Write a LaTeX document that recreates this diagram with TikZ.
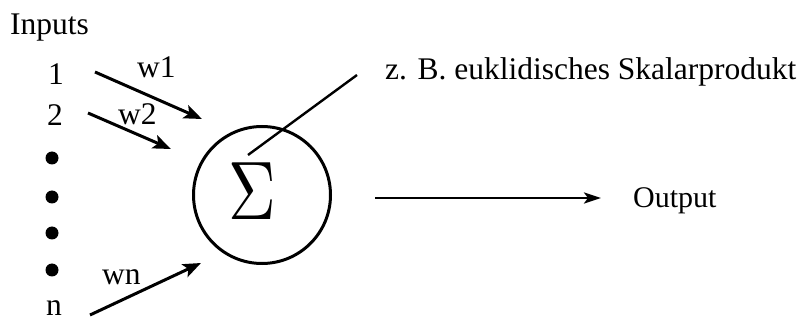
\documentclass[tikz,border=0pt]{standalone}
\usepackage{fontspec}
\setmainfont{Liberation Serif}
\usetikzlibrary{arrows.meta}
\tikzset{
  lbl/.style={anchor=base west, inner sep=0pt, font=\fontsize{31.5}{36}\selectfont},
  inarrow/.style={line width=3pt, -{Stealth[length=18pt, width=14pt, inset=4pt]}},
  outarrow/.style={line width=2.4pt, -{Stealth[length=17pt, width=11pt, inset=4pt]}},
  dotmark/.style={circle, fill=black, inner sep=0pt, minimum size=13pt},
}
\begin{document}
\begin{tikzpicture}[x=1pt, y=-1pt]
\useasboundingbox (0,0) rectangle (801,323);
% texts
\node[lbl] (inputs) at (10,35) {Inputs};
\node[lbl] (in1) at (48,85) {1};
\node[lbl] (in2) at (47,126) {2};
\node[lbl] (inn) at (46,316) {n};
\node[lbl] (w1) at (137,78) {w1};
\node[lbl] (w2) at (118,125) {w2};
\node[lbl] (wn) at (102,285) {wn};
\node[lbl] (note) at (385,80) {z. B. euklidisches Skalarprodukt};
\node[lbl, font=\fontsize{30}{34}\selectfont] (out) at (633,208) {Output};
% dots
\node[dotmark] (d1) at (52,158) {};
\node[dotmark] (d2) at (52,197) {};
\node[dotmark] (d3) at (52,233) {};
\node[dotmark] (d4) at (52,270) {};
% neuron
\node[circle, draw, line width=3pt, minimum size=137pt, inner sep=0pt] (neuron) at (262,195) {};
\node[inner sep=0pt, xscale=6.6, yscale=8.3] (sigma) at (252,191) {$\Sigma$};
% coordinates
\coordinate (a1s) at (95,72);
\coordinate (a1e) at (202,119);
\coordinate (a2s) at (88,113);
\coordinate (a2e) at (171,149);
\coordinate (ans) at (90,315);
\coordinate (ane) at (201,263);
\coordinate (ls) at (248,155);
\coordinate (le) at (357,75);
\coordinate (os) at (375,198);
\coordinate (oe) at (601,198);
% connectors
\draw[inarrow] (a1s) -- (a1e);
\draw[inarrow] (a2s) -- (a2e);
\draw[inarrow] (ans) -- (ane);
\draw[line width=2.4pt] (ls) -- (le);
\draw[outarrow] (os) -- (oe);
\end{tikzpicture}
\end{document}
